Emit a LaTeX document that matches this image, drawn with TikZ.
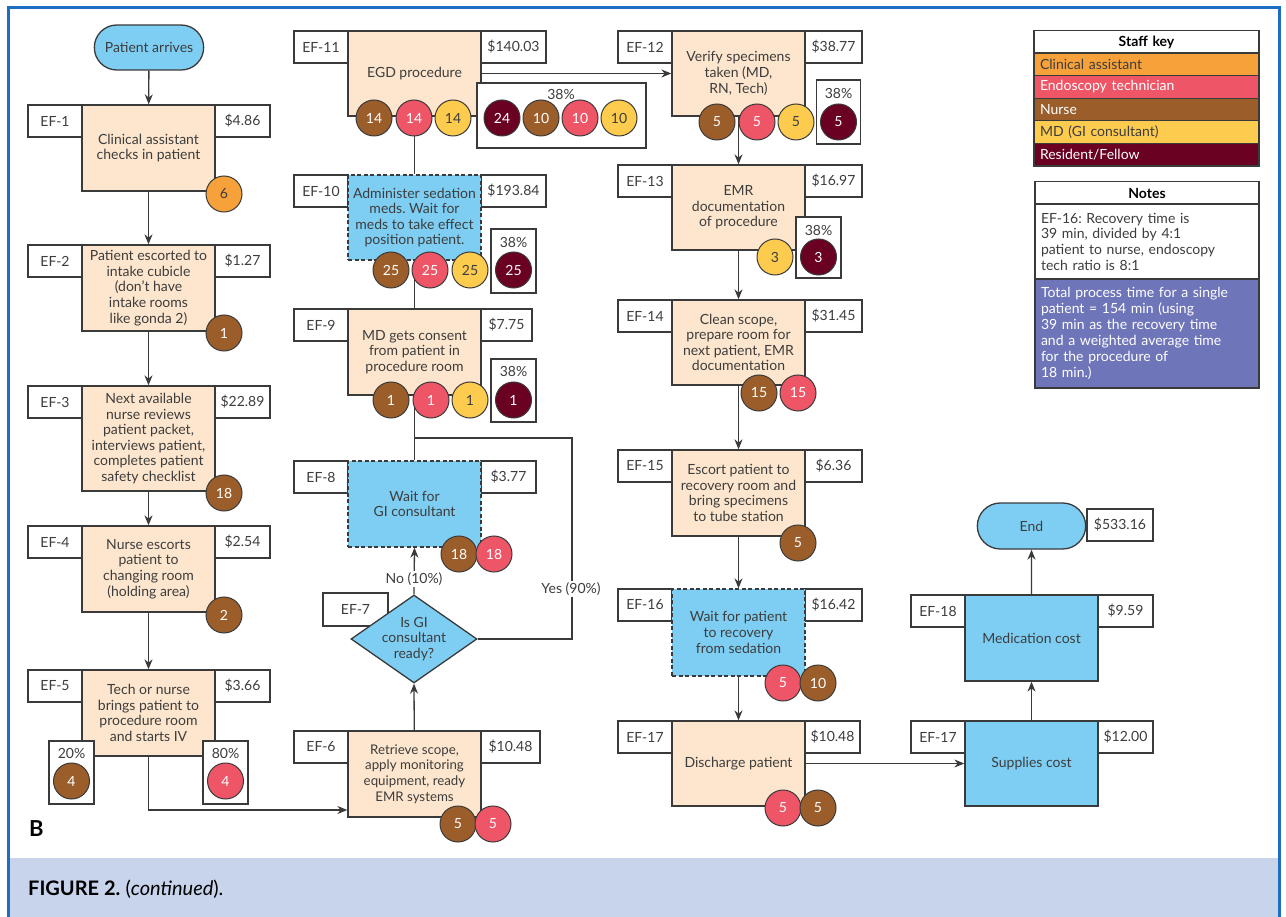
\documentclass[tikz,border=0pt]{standalone}
\usepackage{fontspec}
\setmainfont{Lato}
\usetikzlibrary{arrows.meta,shapes.geometric,shapes.misc}
\frenchspacing
\definecolor{caC}{HTML}{F6A13A}
\definecolor{etC}{HTML}{EE5566}
\definecolor{nuC}{HTML}{9B5E2B}
\definecolor{mdC}{HTML}{FDCC4F}
\definecolor{rfC}{HTML}{6A0022}
\definecolor{peach}{HTML}{FDE6CD}
\definecolor{skyb}{HTML}{7ECEF3}
\definecolor{purp}{HTML}{6F75B9}
\definecolor{frameC}{HTML}{1B6EC2}
\definecolor{band}{HTML}{C7D4EB}
\definecolor{linec}{HTML}{3A3A3A}
\definecolor{txt}{HTML}{3D3D3D}
\newcommand\fsz{\fontsize{14}{15.6}\selectfont}
\newcommand\fsm{\fontsize{13.3}{15.6}\selectfont}
\tikzset{
  ln/.style={draw=linec, line width=1.3},
  arr/.style={ln, -{Stealth[length=10pt,width=8pt]}},
  box/.style={rectangle, draw=linec, line width=1.3, fill=peach, minimum width=133, minimum height=86, align=center, inner sep=1, text=txt, font=\fsz},
  bbox/.style={box, fill=skyb},
  dbox/.style={bbox, dashed, dash pattern=on 4pt off 2.5pt},
  lab/.style={rectangle, draw=linec, line width=1.3, fill=white, minimum width=54, minimum height=32, inner sep=1, text=txt, font=\fsz},
  pbox/.style={rectangle, draw=linec, line width=1.3, fill=white, inner sep=0},
  st/.style={circle, draw=linec, line width=1, minimum size=36, inner sep=0, font=\fsz},
  ca/.style={st, fill=caC, text=txt},
  et/.style={st, fill=etC, text=white},
  nu/.style={st, fill=nuC, text=white},
  md/.style={st, fill=mdC, text=txt},
  rf/.style={st, fill=rfC, text=white},
  term/.style={rounded rectangle, draw=linec, line width=1.3, fill=skyb, minimum width=116, minimum height=45, text=txt, font=\fsz},
  krow/.style={rectangle, draw=linec, line width=1.3, minimum width=225, minimum height=22.6, text width=213, inner xsep=6, inner ysep=0, align=left, font=\fsz},
  pct/.style={text=txt, font=\fsz, inner sep=0},
  tag/.style={fill=white, inner sep=1.5, text=txt, font=\fsz},
}
\begin{document}
\begin{tikzpicture}[x=1pt, y=-1pt]
\useasboundingbox (0,0) rectangle (1286,917);
% frame and caption band
\fill[band] (9.5,858) rectangle (1277.5,917);
\draw[frameC, line width=3] (8,917) -- (8,7.5) -- (1279,7.5) -- (1279,917);
\node[anchor=west, inner sep=0, font=\fontsize{20}{20}\selectfont] (cap) at (28,889) {\textbf{FIGURE 2.} (\textit{continued}).};
\node[anchor=west, inner sep=0, font=\fontsize{22}{22}\selectfont\bfseries] (B) at (29,829) {B};

% ---------- label boxes ----------
\node[lab] (l1) at (55,121) {EF-1};
\node[lab, minimum width=55] (p1) at (242.5,121) {\$4.86};
\node[lab] (l2) at (55,261) {EF-2};
\node[lab, minimum width=55] (p2) at (242.5,261) {\$1.27};
\node[lab] (l3) at (55,402) {EF-3};
\node[lab, minimum width=55] (p3) at (242.5,402) {\$22.89};
\node[lab] (l4) at (55,542) {EF-4};
\node[lab, minimum width=55] (p4) at (242.5,542) {\$2.54};
\node[lab] (l5) at (55,686) {EF-5};
\node[lab, minimum width=55] (p5) at (242.5,686) {\$3.66};

\node[lab] (l11) at (321,47) {EF-11};
\node[lab, minimum width=65] (p11) at (513.5,47) {\$140.03};
\node[lab] (l10) at (321,191) {EF-10};
\node[lab, minimum width=65] (p10) at (513.5,191) {\$193.84};
\node[lab] (l9) at (321,325) {EF-9};
\node[lab, minimum width=51] (p9) at (506.5,325) {\$7.75};
\node[lab] (l8) at (321,477) {EF-8};
\node[lab, minimum width=55] (p8) at (508.5,477) {\$3.77};
\node[lab, minimum width=65, minimum height=33] (l7) at (355.5,609.5) {EF-7};
\node[lab] (l6) at (321,747) {EF-6};
\node[lab, minimum width=59] (p6) at (510.5,747) {\$10.48};

\node[lab] (l12) at (645,47) {EF-12};
\node[lab, minimum width=57] (p12) at (833.5,47) {\$38.77};
\node[lab] (l13) at (645,181) {EF-13};
\node[lab, minimum width=57] (p13) at (833.5,181) {\$16.97};
\node[lab] (l14) at (645,316) {EF-14};
\node[lab, minimum width=57] (p14) at (833.5,316) {\$31.45};
\node[lab] (l15) at (645,466) {EF-15};
\node[lab, minimum width=57] (p15) at (833.5,466) {\$6.36};
\node[lab] (l16) at (645,605) {EF-16};
\node[lab, minimum width=57] (p16) at (833.5,605) {\$16.42};
\node[lab] (l17) at (645,737) {EF-17};
\node[lab, minimum width=55] (p17) at (832.5,737) {\$10.48};

\node[lab] (l18) at (938,611) {EF-18};
\node[lab, minimum width=55] (p18) at (1125.5,611) {\$9.59};
\node[lab] (l17b) at (938,737) {EF-17};
\node[lab, minimum width=55] (psup) at (1125.5,737) {\$12.00};
\node[lab, minimum width=66] (pend) at (1120,525) {\$533.16};

% ---------- main nodes ----------
\node[term] (start) at (149,47.5) {Patient arrives};
\node[box] (e1) at (148.5,148) {Clinical assistant\\checks in patient};
\node[box] (e2) at (148.5,288) {Patient escorted to\\intake cubicle\\(don't have\\intake rooms\\like gonda 2)};
\node[box, minimum height=105] (e3) at (148.5,438.5) {Next available\\nurse reviews\\patient packet,\\interviews patient,\\completes patient\\safety checklist};
\node[box] (e4) at (148.5,569) {Nurse escorts\\patient to\\changing room\\(holding area)};
\node[box] (e5) at (148.5,713) {Tech or nurse\\brings patient to\\procedure room\\and starts IV};

\node[box, minimum height=85] (e11) at (414.5,73.5) {EGD procedure};
\node[dbox, minimum height=85] (e10) at (414.5,217.5) {Administer sedation\\meds. Wait for\\meds to take effect\\position patient.};
\node[box] (e9) at (414.5,352) {MD gets consent\\from patient in\\procedure room};
\node[dbox] (e8) at (414.5,504) {Wait for\\GI consultant};
\node[diamond, draw=linec, line width=1.3, fill=skyb, minimum width=126, minimum height=88, aspect=1.43, inner sep=0] (e7) at (414,639) {};
\node[text=txt, font=\fsz, align=center, inner sep=0] (e7t) at (414,639) {Is GI\\consultant\\ready?};
\node[box, font=\fsm] (e6) at (414.5,774) {Retrieve scope,\\apply monitoring\\equipment, ready\\EMR systems};

\node[box, minimum height=85] (e12) at (738.5,73.5) {Verify specimens\\taken (MD,\\RN, Tech)};
\node[box, minimum height=85] (e13) at (738.5,207.5) {EMR\\documentation\\of procedure};
\node[box, minimum height=85] (e14) at (738.5,342.5) {Clean scope,\\prepare room for\\next patient, EMR\\documentation};
\node[box] (e15) at (738.5,493) {Escort patient to\\recovery room and\\bring specimens\\to tube station};
\node[dbox, minimum height=87] (e16) at (738.5,632.5) {Wait for patient\\to recovery\\from sedation};
\node[box, minimum height=85] (e17) at (738.5,763.5) {Discharge patient};

\node[bbox, minimum height=85] (sup) at (1031.5,763.5) {Supplies cost};
\node[bbox] (med) at (1031.5,638) {Medication cost};
\node[term, minimum width=115, minimum height=46] (end) at (1031.5,526) {End};

% ---------- connectors ----------
\draw[arr] (start) -- (e1);
\draw[arr] (e1) -- (e2);
\draw[arr] (e2) -- (e3);
\draw[arr] (e3) -- (e4);
\draw[arr] (e4) -- (e5);
\coordinate (j5) at (148.5,810);
\draw[arr] (e5.south) -- (j5) -- (j5 -| e6.west);
\draw[arr] (e6) -- (e7.south);
\draw[arr] (e7.north) -- (e8.south);
\node[tag] (no) at (414,579) {No (10\%)};
\coordinate (jn) at (414.5,438);
\coordinate (yc) at (572,438);
\draw[ln] (e7.east) -- (e7.east -| yc) -- (yc) -- (jn);
\node[tag] (yes) at (571,589) {Yes (90\%)};
\draw[ln] (e8) -- (e9);
\draw[ln] (e9) -- (e10);
\draw[ln] (e10) -- (e11);
\draw[arr] (e11.east) -- (e11.east -| e12.west);
\draw[arr] (e12) -- (e13);
\draw[arr] (e13) -- (e14);
\draw[arr] (e14) -- (e15);
\draw[arr] (e15) -- (e16);
\draw[arr] (e16) -- (e17);
\draw[arr] (e17.east) -- (sup.west);
\draw[arr] (sup) -- (med);
\draw[arr] (med) -- (end);

% ---------- staff circles ----------
\node[ca] (c1) at (224,194) {6};
\node[nu] (c2) at (224,333) {1};
\node[nu] (c3) at (224,493) {18};
\node[nu] (c4) at (224,615) {2};
\node[pbox, minimum width=45, minimum height=63] (b5a) at (71.5,772.5) {};
\node[pct] (t5a) at (71.5,753) {20\%};
\node[nu] (c5a) at (71.5,781) {4};
\node[pbox, minimum width=45, minimum height=63] (b5b) at (225.5,772.5) {};
\node[pct] (t5b) at (225.5,753) {80\%};
\node[et] (c5b) at (225.5,781) {4};

\node[nu] (c11a) at (374,118) {14};
\node[et] (c11b) at (414,118) {14};
\node[md] (c11c) at (453,118) {14};
\node[pbox, minimum width=169, minimum height=65] (b11) at (561.5,115.5) {};
\node[pct] (t11) at (561,94) {38\%};
\node[rf] (c11d) at (502,118) {24};
\node[nu] (c11e) at (541,118) {10};
\node[et] (c11f) at (580,118) {10};
\node[md] (c11g) at (619,118) {10};

\node[nu] (c10a) at (391,270) {25};
\node[et] (c10b) at (430,270) {25};
\node[md] (c10c) at (470,270) {25};
\node[pbox, minimum width=45, minimum height=64] (b10) at (513.5,261) {};
\node[pct] (t10) at (513.5,242) {38\%};
\node[rf] (c10d) at (513.5,270) {25};

\node[nu] (c9a) at (391,400) {1};
\node[et] (c9b) at (431,400) {1};
\node[md] (c9c) at (470,400) {1};
\node[pbox, minimum width=45, minimum height=63] (b9) at (513.5,390.5) {};
\node[pct] (t9) at (513.5,371) {38\%};
\node[rf] (c9d) at (513.5,400) {1};

\node[nu] (c8a) at (459,554) {18};
\node[et] (c8b) at (494,554) {18};
\node[nu] (c6a) at (458,824) {5};
\node[et] (c6b) at (493,824) {5};

\node[nu] (c12a) at (717,122) {5};
\node[et] (c12b) at (757,122) {5};
\node[md] (c12c) at (796,122) {5};
\node[pbox, minimum width=44, minimum height=64] (b12) at (838.5,112) {};
\node[pct] (t12) at (838.5,93) {38\%};
\node[rf] (c12d) at (838.5,122) {5};

\node[md] (c13a) at (775,257) {3};
\node[pbox, minimum width=45, minimum height=61] (b13) at (818.5,247.5) {};
\node[pct] (t13) at (818.5,230) {38\%};
\node[rf] (c13b) at (818.5,257) {3};

\node[nu] (c14a) at (759,393) {15};
\node[et] (c14b) at (798,393) {15};
\node[nu] (c15) at (798,543) {5};
\node[et] (c16a) at (783,683) {5};
\node[nu] (c16b) at (818,683) {10};
\node[et] (c17a) at (783,808) {5};
\node[nu] (c17b) at (818,808) {5};

% ---------- staff key ----------
\node[krow, fill=white, align=center, font=\fsz\bfseries] (k0) at (1146.5,42) {Staff key};
\node[krow, fill=caC, text=txt] (k1) at (1146.5,64.3) {Clinical assistant};
\node[krow, fill=etC, text=white] (k2) at (1146.5,86.9) {Endoscopy technician};
\node[krow, fill=nuC, text=white] (k3) at (1146.5,109.5) {Nurse};
\node[krow, fill=mdC, text=txt] (k4) at (1146.5,132.1) {MD (GI consultant)};
\node[krow, fill=rfC, text=white] (k5) at (1146.5,154.7) {Resident/Fellow};

% ---------- notes ----------
\node[krow, fill=white, align=center, font=\fsz\bfseries, minimum width=224, text width=212] (n0) at (1147,193) {Notes};
\node[krow, fill=white, text=txt, minimum width=224, text width=212, minimum height=75, font=\fontsize{14}{15.7}\selectfont] (n1) at (1147,241.5) {EF-16: Recovery time is\\39 min, divided by 4:1\\patient to nurse, endoscopy\\tech ratio is 8:1};
\node[krow, fill=purp, text=white, minimum width=224, text width=212, minimum height=109, font=\fontsize{14}{16}\selectfont] (n2) at (1147,333.5) {Total process time for a single\\patient = 154 min (using\\39 min as the recovery time\\and a weighted average time\\for the procedure of\\18 min.)};
\end{tikzpicture}
\end{document}
